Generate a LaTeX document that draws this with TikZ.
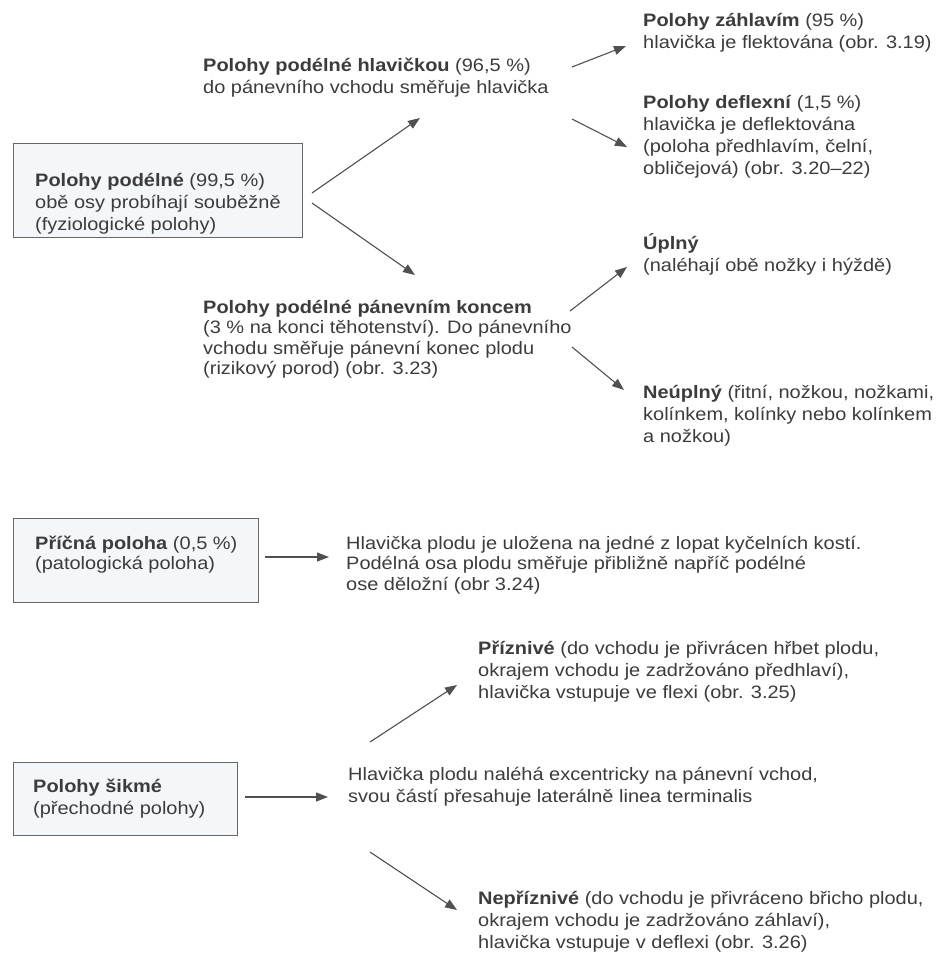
\documentclass[tikz,border=0pt]{standalone}
\usepackage{fontspec}
\setmainfont[FakeStretch=1.11]{Liberation Sans}
\usetikzlibrary{arrows.meta}
\definecolor{txt}{HTML}{3C3C3C}
\definecolor{boxfill}{HTML}{F3F7F9}
\definecolor{boxline}{HTML}{666666}
\definecolor{arr}{HTML}{505050}
\newcommand{\tb}[1]{\begin{tabular}[t]{@{}l@{}}#1\end{tabular}}
\begin{document}
\begin{tikzpicture}[x=1pt,y=-1pt,
  lbl/.style={anchor=base west, inner sep=0pt, text=txt, font=\fontsize{18}{22}\selectfont},
  tight/.style={font=\fontsize{18}{20.5}\selectfont},
  boxst/.style={draw=boxline, fill=boxfill, line width=1.3pt, inner sep=0pt, anchor=north west},
  conn/.style={draw=arr, line width=1.1pt, -{Triangle[length=12pt,width=9pt]}}]
\useasboundingbox[fill=white] (0,0) rectangle (936,953);

% boxes
\node[boxst, minimum width=289pt, minimum height=94pt] (b1) at (13,143) {};
\node[boxst, minimum width=245pt, minimum height=84pt] (b2) at (13,518) {};
\node[boxst, minimum width=224pt, minimum height=73pt] (b3) at (13,762) {};

% texts
\node[lbl] (t1) at (35,186) {\tb{\textbf{Polohy podélné} (99,5 \%)\\obě osy probíhají souběžně\\(fyziologické polohy)}};
\node[lbl] (hlav) at (203,71) {\tb{\textbf{Polohy podélné hlavičkou} (96,5 \%)\\do pánevního vchodu směřuje hlavička}};
\node[lbl] (zahl) at (643,26) {\tb{\textbf{Polohy záhlavím} (95 \%)\\hlavička je flektována (obr. 3.19)}};
\node[lbl] (defl) at (643,108) {\tb{\textbf{Polohy deflexní} (1,5 \%)\\hlavička je deflektována\\(poloha předhlavím, čelní,\\obličejová) (obr. 3.20–22)}};
\node[lbl,tight] (panev) at (203,313) {\tb{\textbf{Polohy podélné pánevním koncem}\\(3 \% na konci těhotenství). Do pánevního\\vchodu směřuje pánevní konec plodu\\(rizikový porod) (obr. 3.23)}};
\node[lbl] (upl) at (643,249) {\tb{\textbf{Úplný}\\(naléhají obě nožky i hýždě)}};
\node[lbl] (neupl) at (643,398) {\tb{\textbf{Neúplný} (řitní, nožkou, nožkami,\\kolínkem, kolínky nebo kolínkem\\a nožkou)}};
\node[lbl,tight] (t2) at (35,549) {\tb{\textbf{Příčná poloha} (0,5 \%)\\(patologická poloha)}};
\node[lbl,tight] (pric) at (346,549) {\tb{Hlavička plodu je uložena na jedné z lopat kyčelních kostí.\\Podélná osa plodu směřuje přibližně napříč podélné\\ose děložní (obr 3.24)}};
\node[lbl] (t3) at (33,792) {\tb{\textbf{Polohy šikmé}\\(přechodné polohy)}};
\node[lbl] (sik) at (348,780) {\tb{Hlavička plodu naléhá excentricky na pánevní vchod,\\svou částí přesahuje laterálně linea terminalis}};
\node[lbl] (priz) at (478,654) {\tb{\textbf{Příznivé} (do vchodu je přivrácen hřbet plodu,\\okrajem vchodu je zadržováno předhlaví),\\hlavička vstupuje ve flexi (obr. 3.25)}};
\node[lbl] (nepriz) at (478,904) {\tb{\textbf{Nepříznivé} (do vchodu je přivráceno břicho plodu,\\okrajem vchodu je zadržováno záhlaví),\\hlavička vstupuje v deflexi (obr. 3.26)}};

% connector end points
\coordinate (a1s) at (312,193); \coordinate (a1e) at (420,118);
\coordinate (a2s) at (312,203); \coordinate (a2e) at (415,275);
\coordinate (a3s) at (572,67);  \coordinate (a3e) at (626,46);
\coordinate (a4s) at (572,119); \coordinate (a4e) at (627,147);
\coordinate (a5s) at (570,311); \coordinate (a5e) at (627,267);
\coordinate (a6s) at (572,347); \coordinate (a6e) at (624,390);
\coordinate (a7s) at (265,557); \coordinate (a7e) at (329,557);
\coordinate (a8s) at (245,797); \coordinate (a8e) at (328,797);
\coordinate (a9s) at (370,742); \coordinate (a9e) at (457,685);
\coordinate (a10s) at (370,852); \coordinate (a10e) at (457,910);

\foreach \i in {1,...,10} {\draw[conn] (a\i s) -- (a\i e);}
\end{tikzpicture}
\end{document}
